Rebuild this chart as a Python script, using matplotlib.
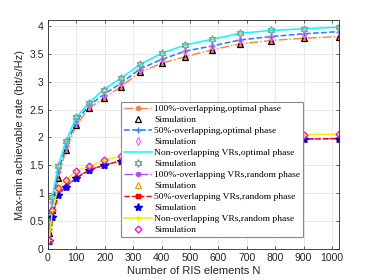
import matplotlib
matplotlib.use("Agg")
import matplotlib.pyplot as plt
from matplotlib.ticker import FuncFormatter

# number of RIS elements
N = [4, 16, 36, 64, 100, 144, 196, 256, 324, 400, 484, 576, 676, 784, 900, 1024]

# optimal phase
opt_100 = [0.28, 0.70, 1.28, 1.78, 2.22, 2.52, 2.70, 2.91, 3.17, 3.33, 3.45, 3.57, 3.68, 3.74, 3.78, 3.81]
opt_50 = [0.36, 0.84, 1.38, 1.85, 2.29, 2.57, 2.77, 2.97, 3.23, 3.40, 3.55, 3.64, 3.75, 3.81, 3.86, 3.90]
opt_non = [0.46, 0.94, 1.49, 1.94, 2.36, 2.62, 2.86, 3.06, 3.31, 3.51, 3.66, 3.76, 3.87, 3.92, 3.95, 3.98]

# random phase
rnd_100 = [0.14, 0.58, 0.98, 1.13, 1.28, 1.42, 1.50, 1.58, 1.67, 1.73, 1.78, 1.83, 1.88, 1.92, 1.97, 1.98]
rnd_50 = [0.14, 0.57, 0.97, 1.12, 1.27, 1.41, 1.50, 1.58, 1.67, 1.73, 1.78, 1.83, 1.88, 1.92, 1.97, 1.98]
rnd_non = [0.16, 0.70, 1.10, 1.24, 1.40, 1.48, 1.59, 1.66, 1.74, 1.80, 1.86, 1.91, 1.96, 2.00, 2.05, 2.06]

plt.rcParams['font.family'] = 'Liberation Sans'

fig = plt.figure(figsize=(3.74, 2.8), dpi=100)
ax = fig.add_axes([0.128, 0.111, 0.778, 0.816])

ms = 3.5
hexagram = (6, 1, 0)
ax.plot(N, opt_100, '-.o', color='#FF7F3F', lw=1, ms=3, label='100%-overlapping,optimal phase')
ax.plot(N, opt_100, '^', color='black', mfc='none', ms=ms + 0.5, mew=0.9, label='Simulation')
ax.plot(N, opt_50, '--+', color='#1F7FFF', lw=1.1, ms=4, mew=1, label='50%-overlapping,optimal phase')
ax.plot(N, opt_50, 'd', color='#FF66FF', mfc='none', ms=ms + 0.5, mew=0.9, label='Simulation')
ax.plot(N, opt_non, '-', color='#00FFFF', lw=1.1, label='Non-overlapping VRs,optimal phase')
ax.plot(N, opt_non, marker=hexagram, ls='none', color='#77AC93', mfc='none', ms=ms + 2, mew=1, label='Simulation')
ax.plot(N, rnd_100, '-.o', color='#B24BFF', lw=1, ms=3, label='100%-overlapping VRs,random phase')
ax.plot(N, rnd_100, '^', color='#F5A300', mfc='none', ms=ms + 1, mew=0.9, label='Simulation')
ax.plot(N, rnd_50, '--X', color='#FF0000', lw=1, ms=3.5, label='50%-overlapping VRs,random phase')
ax.plot(N, rnd_50, '*', color='#0000FF', ms=ms + 2.5, label='Simulation')
ax.plot(N, rnd_non, '-+', color='#F0F000', lw=1.1, ms=4, mew=1, label='Non-overlapping VRs,random phase')
ax.plot(N, rnd_non, 'D', color='#FF00FF', mfc='none', ms=ms, mew=0.9, label='Simulation')

ax.set_xlim(0, 1024)
ax.set_ylim(0, 4.1)
ax.set_xticks(range(0, 1001, 100))
ax.set_yticks([0, 0.5, 1, 1.5, 2, 2.5, 3, 3.5, 4])
ax.yaxis.set_major_formatter(FuncFormatter(lambda v, p: '%g' % v))
ax.grid(True, color='#E6E6E6', lw=0.6)
ax.tick_params(direction='in', top=True, right=True, labelsize=7.5, length=2.5, width=0.5,
               colors='#262626', pad=3)
for s in ax.spines.values():
    s.set_linewidth(0.6)
    s.set_color('#262626')

ax.set_xlabel('Number of RIS elements N', fontsize=8, color='#262626', labelpad=2)
ax.set_ylabel('Max-min achievable rate (bit/s/Hz)', fontsize=8, color='#262626', labelpad=3)

leg = ax.legend(loc='upper left', bbox_to_anchor=(0.251, 0.643), borderaxespad=0,
                prop={'family': 'Liberation Serif', 'size': 6.8}, fancybox=False, framealpha=1,
                edgecolor='#888888', handlelength=3.0, handletextpad=0.2,
                labelspacing=0.25, borderpad=0.3)
leg.get_frame().set_linewidth(0.8)

fig.savefig('out.png', dpi=100)
